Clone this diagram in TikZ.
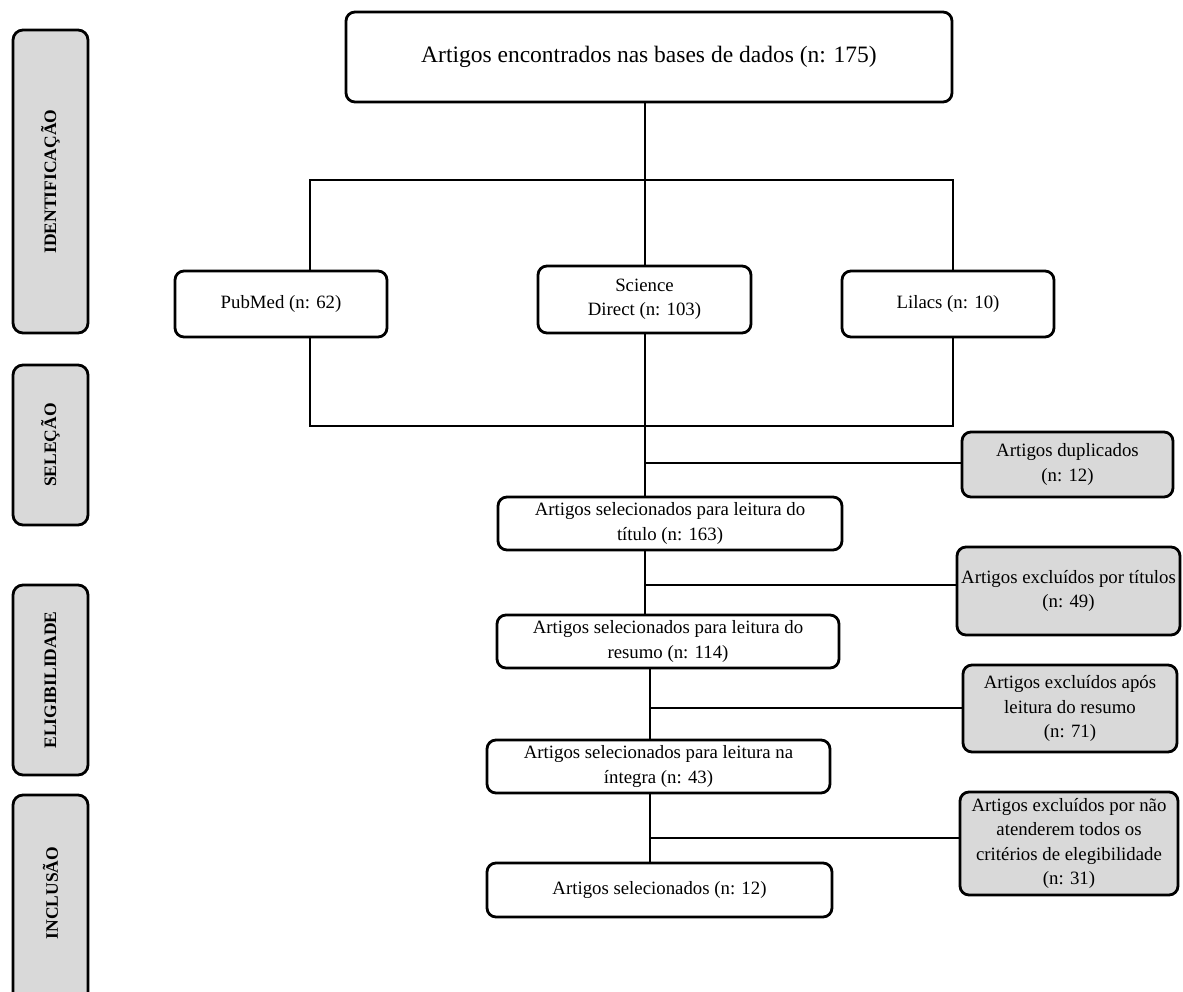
\documentclass[tikz,border=0pt]{standalone}
\usepackage{fontspec}
\setmainfont{Liberation Serif}
\definecolor{boxgray}{RGB}{217,217,217}
\begin{document}
\begin{tikzpicture}[x=1pt,y=-1pt,
  box/.style={draw=black, line width=2.8pt, rounded corners=9pt, fill=white, align=center,
    inner sep=0pt, outer sep=0pt, font=\fontsize{18.8}{24.4}\selectfont},
  greybox/.style={box, fill=boxgray},
  phase/.style={draw=black, line width=2.8pt, rounded corners=10pt, fill=boxgray,
    inner sep=0pt, outer sep=0pt, minimum width=75pt},
  phtext/.style={rotate=90, inner sep=0pt, font=\bfseries\fontsize{17.5}{17.5}\selectfont},
  link/.style={draw=black, line width=2pt}]
\clip (0,0) rectangle (1183,991);
\fill[white] (0,0) rectangle (1183,991);

% phase boxes
\node[phase, minimum height=303pt] (p1) at (50.5,181.5) {};
\node[phtext] (t1) at (p1) {IDENTIFICAÇÃO};
\node[phase, minimum height=160pt] (p2) at (50.5,445) {};
\node[phtext] (t2) at (p2) {SELEÇÃO};
\node[phase, minimum height=190pt] (p3) at (50.5,680) {};
\node[phtext] (t3) at (p3) {ELIGIBILIDADE};
\node[phase, minimum height=220pt] (p4) at (50.5,905) {};
\node[phtext] (t4) at (50.5,893) {INCLUSÃO};

% coordinates for connectors
\coordinate (ja) at (645,180);
\coordinate (jl) at (310,180);
\coordinate (jr) at (953,180);
\coordinate (kl) at (310,426);
\coordinate (kr) at (953,426);
\coordinate (c1) at (645,463);
\coordinate (c2) at (645,585);
\coordinate (c3) at (650,708);
\coordinate (c4) at (650,838);

% main boxes
\node[box, minimum width=606pt, minimum height=90pt, font=\fontsize{23.5}{28}\selectfont] (top) at (649,57) {Artigos encontrados nas bases de dados (n: 175)};
\node[box, minimum width=212pt, minimum height=66pt] (pub) at (281,304) {PubMed (n: 62)};
\node[box, minimum width=213pt, minimum height=67pt] (sci) at (644.5,299.5) {Science\\Direct (n: 103)};
\node[box, minimum width=212pt, minimum height=66pt] (lil) at (948,304) {Lilacs (n: 10)};

\node[greybox, minimum width=211pt, minimum height=65pt] (dup) at (1067.5,464.5) {Artigos duplicados\\(n: 12)};
\node[box, minimum width=344pt, minimum height=53pt] (tit) at (670,523.5) {Artigos selecionados para leitura do\\título (n: 163)};
\node[greybox, minimum width=223pt, minimum height=88pt] (tex) at (1068.5,591) {Artigos excluídos por títulos\\(n: 49)};
\node[box, minimum width=342pt, minimum height=53pt] (res) at (668,641.5) {Artigos selecionados para leitura do\\resumo (n: 114)};
\node[greybox, minimum width=214pt, minimum height=87pt] (apo) at (1070,708.5) {Artigos excluídos após\\leitura do resumo\\(n: 71)};
\node[box, minimum width=343pt, minimum height=53pt] (int) at (658.5,766.5) {Artigos selecionados para leitura na\\íntegra (n: 43)};
\node[greybox, minimum width=218pt, minimum height=103pt] (nao) at (1069,843.5) {Artigos excluídos por não\\atenderem todos os\\critérios de elegibilidade\\(n: 31)};
\node[box, minimum width=345pt, minimum height=54pt] (sel) at (659.5,890) {Artigos selecionados (n: 12)};

% connectors
\draw[link] (ja |- top.south) -- (ja |- sci.north);
\draw[link] (jl |- pub.north) -- (jl) -- (jr) -- (jr |- lil.north);
\draw[link] (jl |- pub.south) -- (kl) -- (kr) -- (kr |- lil.south);
\draw[link] (ja |- sci.south) -- (ja |- tit.north);
\draw[link] (c1) -- (c1 -| dup.west);
\draw[link] (ja |- tit.south) -- (ja |- res.north);
\draw[link] (c2) -- (c2 -| tex.west);
\draw[link] (c3 |- res.south) -- (c3 |- int.north);
\draw[link] (c3) -- (c3 -| apo.west);
\draw[link] (c4 |- int.south) -- (c4 |- sel.north);
\draw[link] (c4) -- (c4 -| nao.west);
\end{tikzpicture}
\end{document}
